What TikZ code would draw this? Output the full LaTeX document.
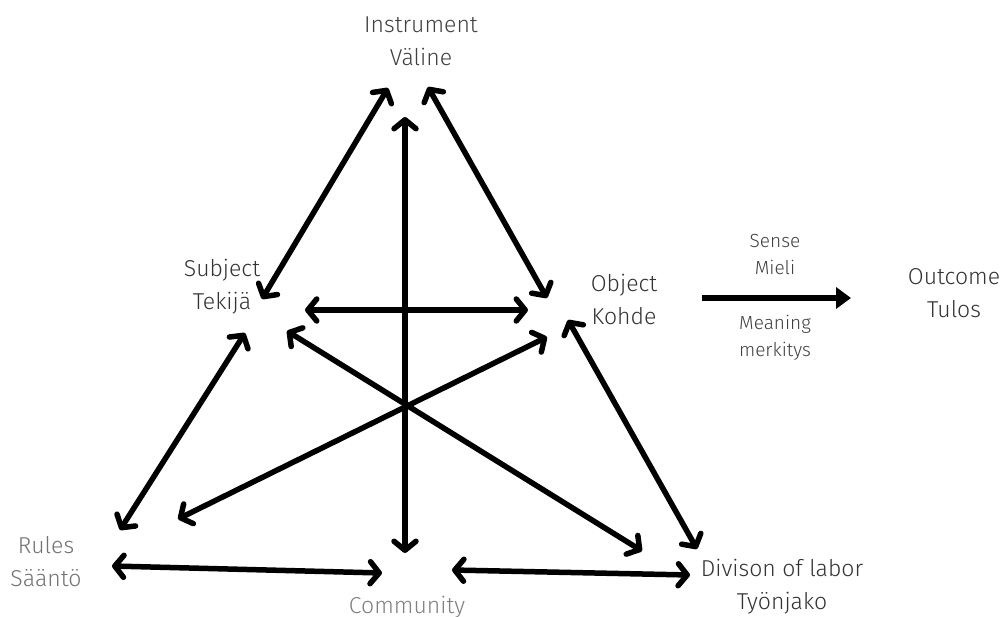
\documentclass[tikz,border=0pt]{standalone}
\usepackage{fontspec}
\setmainfont{Fira Sans}[UprightFont=* Light]
\usetikzlibrary{arrows.meta}
\tikzset{
  lbl/.style={align=center, inner sep=0pt, font=\fontsize{23}{33}\selectfont},
  small/.style={align=center, inner sep=0pt, font=\fontsize{19}{27}\selectfont, text=black!75},
  barb/.tip={Straight Barb[length=9pt,width=22pt,line width=5.5pt,round]},
  link/.style={line width=5.5pt, line cap=round, barb-barb},
  lead/.style={line width=5.5pt, -{Triangle[length=15pt,width=21pt]}}
}
\begin{document}
\begin{tikzpicture}[x=1pt,y=-1pt]
\useasboundingbox (0,0) rectangle (1004,617);
\fill[white] (0,0) rectangle (1004,617);

% labels
\node[lbl, text=black!75] (instr) at (421,41) {Instrument\\Väline};
\node[lbl, text=black!80] (subj) at (222,287) {Subject\\Tekijä};
\node[lbl, text=black!80] (obj) at (624,299) {Object\\Kohde};
\node[lbl, text=black!80] (out) at (954,293) {Outcome\\Tulos};
\node[lbl, text=black!55] (rules) at (46,562) {Rules\\Sääntö};
\node[lbl, text=black!50] (comm) at (407,607) {Community};
\node[lbl, text=black!80] (div) at (782,587) {Divison of labor\\Työnjako};
\node[small] (sense) at (775,254) {Sense\\Mieli};
\node[small] (mean) at (775,338) {Meaning\\merkitys};

% connector ends
\coordinate (i1) at (388,88);
\coordinate (i2) at (428,87);
\coordinate (i3) at (405,117);
\coordinate (s1) at (262,299);
\coordinate (s2) at (305,310);
\coordinate (s3) at (245,333);
\coordinate (s4) at (287,331);
\coordinate (o1) at (547,298);
\coordinate (o2) at (528,310);
\coordinate (o3) at (547,337);
\coordinate (o4) at (568,320);
\coordinate (r1) at (120,530);
\coordinate (r2) at (178,519);
\coordinate (r3) at (112,566);
\coordinate (c1) at (405,553);
\coordinate (c2) at (382,573);
\coordinate (c3) at (452,570);
\coordinate (d1) at (642,551);
\coordinate (d2) at (697,549);
\coordinate (d3) at (690,575);
\coordinate (a1) at (702,298);
\coordinate (a2) at (851,298);

% connectors
\draw[link] (s1) -- (i1);
\draw[link] (i2) -- (o1);
\draw[link] (i3) -- (c1);
\draw[link] (s2) -- (o2);
\draw[link] (s3) -- (r1);
\draw[link] (o3) -- (r2);
\draw[link] (s4) -- (d1);
\draw[link] (o4) -- (d2);
\draw[link] (r3) -- (c2);
\draw[link] (c3) -- (d3);
\draw[lead] (a1) -- (a2);
\end{tikzpicture}
\end{document}
